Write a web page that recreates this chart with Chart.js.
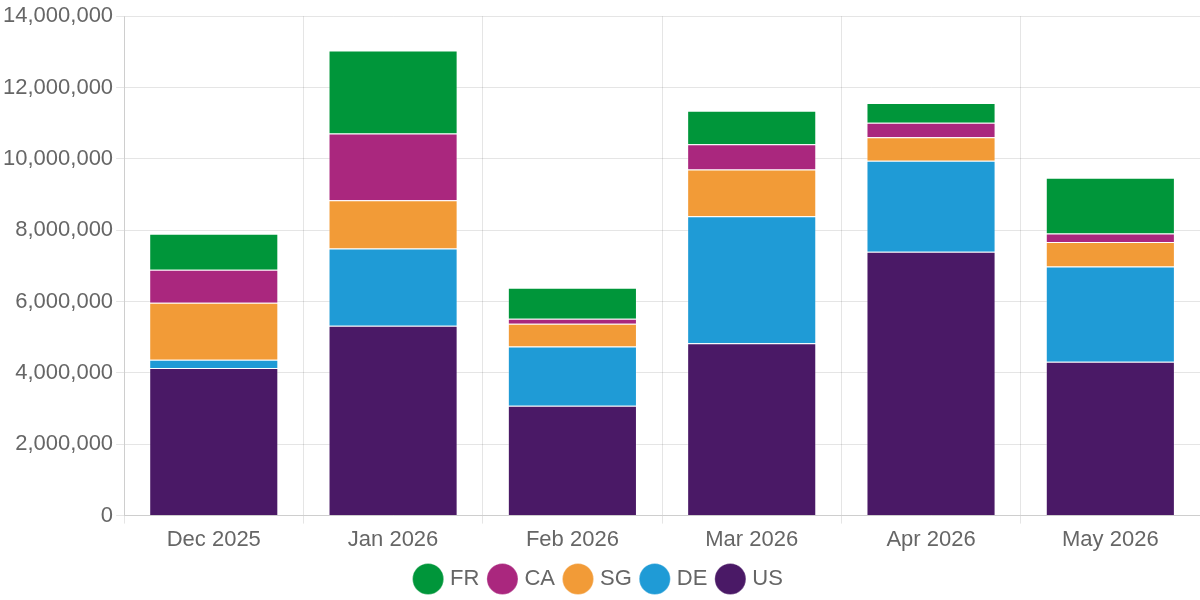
<!DOCTYPE html>
<html>
<head>
<meta charset="utf-8">
<script src="https://cdn.jsdelivr.net/npm/chart.js@4"></script>
<style>
  html, body { margin: 0; padding: 0; background: #fff; }
  #wrap { width: 1200px; height: 600px; }
</style>
</head>
<body>
<div id="wrap"><canvas id="myChart"></canvas></div>
<script>
var months = ["Dec 2025", "Jan 2026", "Feb 2026", "Mar 2026", "Apr 2026", "May 2026"];
var usValues = [4140000, 5320000, 3080000, 4830000, 7400000, 4310000];
var deValues = [230000, 2170000, 1660000, 3560000, 2550000, 2670000];
var sgValues = [1600000, 1350000, 640000, 1310000, 660000, 690000];
var caValues = [920000, 1870000, 140000, 710000, 400000, 240000];
var frValues = [1010000, 2330000, 870000, 940000, 560000, 1560000];

Chart.defaults.font.family = "'Liberation Sans', Arial, sans-serif";
Chart.defaults.font.size = 22;
Chart.defaults.color = "#666";

new Chart("myChart", {
    type: "bar",
    data: {
        labels: months,
        datasets: [
            { label: "US", data: usValues, backgroundColor: "#4a1966" },
            { label: "DE", data: deValues, backgroundColor: "#1f9bd6" },
            { label: "SG", data: sgValues, backgroundColor: "#f29b37" },
            { label: "CA", data: caValues, backgroundColor: "#aa277e" },
            { label: "FR", data: frValues, backgroundColor: "#00963a" }
        ]
    },
    options: {
        responsive: true,
        maintainAspectRatio: false,
        animation: false,
        datasets: {
            bar: { borderWidth: 1, borderColor: "rgba(255,255,255,0.25)" }
        },
        layout: { padding: { top: 4 } },
        scales: {
            x: { stacked: true },
            y: {
                stacked: true,
                min: 0,
                max: 14000000,
                ticks: { stepSize: 2000000 }
            }
        },
        plugins: {
            tooltip: { enabled: false },
            legend: {
                position: "bottom",
                reverse: true,
                labels: { usePointStyle: true, pointStyle: "circle", padding: 12 }
            }
        }
    }
});
</script>
</body>
</html>
